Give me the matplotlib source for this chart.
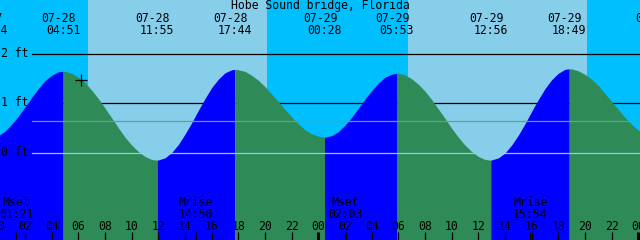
import matplotlib
matplotlib.use("Agg")
import matplotlib.pyplot as plt

# ---------------- data ----------------
title = "Hobe Sound bridge, Florida"

# tide height (ft) sampled every half hour, hours counted from 07-28 00:00
curve_hours = [i * 0.5 for i in range(97)]
curve_ft = [0.34, 0.43, 0.57, 0.73, 0.92, 1.11, 1.29, 1.45, 1.56, 1.63,
            1.64, 1.60, 1.52, 1.41, 1.26, 1.09, 0.90, 0.70, 0.50, 0.31,
            0.15, 0.02, -0.08, -0.14, -0.15, -0.11, 0.00, 0.16, 0.37, 0.60,
            0.85, 1.09, 1.31, 1.48, 1.61, 1.67, 1.67, 1.64, 1.56, 1.46,
            1.33, 1.18, 1.03, 0.87, 0.72, 0.58, 0.46, 0.38, 0.33, 0.31,
            0.34, 0.42, 0.55, 0.71, 0.89, 1.08, 1.25, 1.40, 1.52, 1.58,
            1.60, 1.57, 1.49, 1.38, 1.24, 1.07, 0.88, 0.69, 0.49, 0.31,
            0.15, 0.02, -0.08, -0.14, -0.15, -0.11, -0.01, 0.15, 0.35, 0.58,
            0.83, 1.07, 1.29, 1.47, 1.60, 1.68, 1.69, 1.65, 1.58, 1.48,
            1.35, 1.19, 1.03, 0.87, 0.71, 0.57, 0.45]

# high / low tide events
ext_dates = ["07-27", "07-28", "07-28", "07-28", "07-29", "07-29", "07-29", "07-29", "07-30"]
ext_times = ["23:24", "04:51", "11:55", "17:44", "00:28", "05:53", "12:56", "18:49", "01:24"]
ext_ft = [0.30, 1.64, -0.155, 1.68, 0.31, 1.60, -0.155, 1.69, 0.30]

# moon events
moon_names = ["Mset", "Mrise", "Mset", "Mrise"]
moon_dates = ["07-28", "07-28", "07-29", "07-29"]
moon_times = ["01:21", "14:50", "02:03", "15:54"]

# daylight periods
sunrise = [("07-28", "06:44"), ("07-29", "06:44")]
sunset = [("07-28", "20:08"), ("07-29", "20:08")]

hour_labels = ["00", "02", "04", "06", "08", "10", "12", "14", "16", "18", "20", "22"]
level_ft = [0, 1, 2]
level_labels = ["0 ft", "1 ft", "2 ft"]
mean_ft = 0.646
now_date, now_time, now_ft = "07-28", "06:14", 1.47

# ---------------- helpers ----------------
day_offset = {"07-27": -24, "07-28": 0, "07-29": 24, "07-30": 48}


def to_h(d, t):
    hh, mm = t.split(":")
    return day_offset[d] + int(hh) + int(mm) / 60.0


W, H = 640, 240
PPH = 40.0 / 3.0          # pixels per hour
T0 = 1.7 / PPH            # hour at left edge
Y0PX, PPF = 152.5, 49.5   # pixel row of 0 ft, pixels per foot


def xpix(h):
    return (h - T0) * PPH


def ft_of(ypx):
    return (Y0PX - ypx) / PPF


NIGHT = "#00BFFF"
DAY = "#87CEEB"
FLOOD = "#0000FF"
EBB = "#2E8B57"
MEANC = "#58a68b"
DATUMC = "#8cd0e8"
FONT = dict(family="DejaVu Sans Mono", size=8.3, color="black")

fig = plt.figure(figsize=(W / 100, H / 100), dpi=100)
ax = fig.add_axes([0, 0, 1, 1])
ax.set_xlim(T0, T0 + W / PPH)
ax.set_ylim(ft_of(H), ft_of(0))
ax.axis("off")
ax.add_patch(plt.Rectangle((T0, ft_of(H)), W / PPH, H / PPF, color=NIGHT, zorder=0, lw=0))

for (d1, t1), (d2, t2) in zip(sunrise, sunset):
    ax.axvspan(to_h(d1, t1), to_h(d2, t2), color=DAY, lw=0, zorder=1)

# reference lines behind the tide
for lv in level_ft:
    if lv != 0:
        ax.axhline(lv, xmin=32 / W, xmax=1, color="black", lw=0.9, zorder=2)

# tide curve: merge samples and extremes
ext_h = [to_h(d, t) for d, t in zip(ext_dates, ext_times)]
pts = sorted(list(zip(curve_hours, curve_ft)) + list(zip(ext_h, ext_ft)))
bottom = ft_of(H + 5)
for i in range(len(ext_h) - 1):
    a, b = ext_h[i], ext_h[i + 1]
    seg = [(h, v) for h, v in pts if a <= h <= b]
    hs = [p[0] for p in seg]
    vs = [p[1] for p in seg]
    col = FLOOD if ext_ft[i + 1] > ext_ft[i] else EBB
    ax.fill_between(hs, vs, bottom, color=col, lw=0, zorder=3)

# mean and datum lines over the tide
ax.axhline(mean_ft, xmin=32 / W, xmax=1, color=MEANC, lw=0.9, zorder=4)
ax.axhline(0, xmin=32 / W, xmax=1, color=DATUMC, lw=0.9, zorder=4)

# current-time marker
ax.plot([to_h(now_date, now_time)], [now_ft], marker="+", ms=8, mew=0.9,
        color="black", zorder=5)


def ptext(x, ybase, s, ha="center"):
    fig.text(x / W, 1 - ybase / H, s, ha=ha, va="baseline", **FONT)


ptext(320, 9.5, title)

for d, t, h in zip(ext_dates, ext_times, ext_h):
    x = xpix(h)
    ptext(x - 4.5, 21.5, d)
    ptext(x, 33.5, t)

for lv, lab in zip(level_ft, level_labels):
    ptext(1, Y0PX - lv * PPF + 3.5, lab, ha="left")

# bottom hour ticks and labels
for day in (0, 24, 48):
    for lab in hour_labels:
        h = day + int(lab)
        if h > 48:
            continue
        x = xpix(h)
        ptext(x, 229.5, lab)
        lw = 2.2 if int(lab) == 0 else 0.9
        ax.vlines(h, ft_of(H), ft_of(231.5), color="black", lw=lw, zorder=5)

for n, d, t in zip(moon_names, moon_dates, moon_times):
    h = to_h(d, t)
    x = xpix(h)
    ptext(x, 205.5, n)
    ptext(x, 217.5, t)
    ax.vlines(h, ft_of(H), ft_of(231.5), color="black", lw=0.9, zorder=5)

fig.savefig("out.png", dpi=100)
